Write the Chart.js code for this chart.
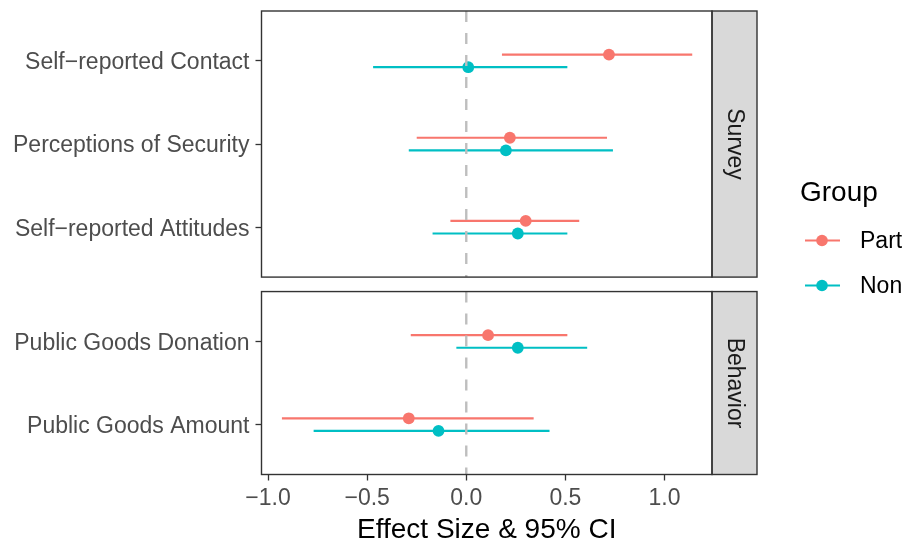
<!DOCTYPE html>
<html>
<head>
<meta charset="utf-8">
<script src="https://cdn.jsdelivr.net/npm/chart.js@4"></script>
<style>
  html, body { margin: 0; padding: 0; background: #fff; }
  #wrap { width: 904px; height: 541px; }
</style>
</head>
<body>
<div id="wrap"><canvas id="myChart" width="904" height="541"></canvas></div>
<script>
// facets and their rows (top to bottom)
const facets = ['Survey', 'Behavior'];
const surveyCats = ['Self\u2212reported Contact', 'Perceptions of Security', 'Self\u2212reported Attitudes'];
const behaviorCats = ['Public Goods Donation', 'Public Goods Amount'];
const groups = ['Part', 'Non'];

// estimates and 95% CI, same order as surveyCats then behaviorCats
const partEst  = [0.72, 0.22, 0.30, 0.11, -0.29];
const partLow  = [0.18, -0.25, -0.08, -0.28, -0.93];
const partHigh = [1.14, 0.71, 0.57, 0.51, 0.34];
const nonEst   = [0.01, 0.20, 0.26, 0.26, -0.14];
const nonLow   = [-0.47, -0.29, -0.17, -0.05, -0.77];
const nonHigh  = [0.51, 0.74, 0.51, 0.61, 0.42];

const xTicks = [-1, -0.5, 0, 0.5, 1];

const colors = { Part: '#F8766D', Non: '#00BFC4' };
const FONT = "'Liberation Sans', Arial, Helvetica, sans-serif";

// y layout in "row units" (ggplot style expansion of 0.6 around each facet)
const EXPAND = 0.6, GAP = 0.174, DODGE = 0.076;
const facetRows = [surveyCats, behaviorCats];
const panels = [];   // {name, from, to}
const rowPos = [];   // center of every row
const rowLabels = [];
let cursor = 0;
facetRows.forEach((cats, f) => {
  const from = cursor;
  cats.forEach((c, i) => { rowPos.push(from + EXPAND + i); rowLabels.push(c); });
  const to = from + EXPAND * 2 + cats.length - 1;
  panels.push({ name: facets[f], from, to });
  cursor = to + GAP;
});
const yMax = panels[panels.length - 1].to;

function intervals(lo, hi, shift) {
  const out = [];
  lo.forEach((v, i) => {
    out.push({ x: v, y: rowPos[i] + shift }, { x: hi[i], y: rowPos[i] + shift }, { x: NaN, y: NaN });
  });
  return out;
}
function points(est, shift) {
  return est.map((v, i) => ({ x: v, y: rowPos[i] + shift }));
}
const vline = [];
panels.forEach(p => { vline.push({ x: 0, y: p.from }, { x: 0, y: p.to }, { x: NaN, y: NaN }); });

// panel borders, facet strips and legend
const facetDecor = {
  id: 'facetDecor',
  afterDraw(chart) {
    const { ctx, chartArea, scales } = chart;
    const y = scales.y;
    const stripW = 45;
    ctx.save();
    panels.forEach(p => {
      const top = y.getPixelForValue(p.from), bot = y.getPixelForValue(p.to);
      ctx.fillStyle = '#D9D9D9';
      ctx.fillRect(chartArea.right, top, stripW, bot - top);
      ctx.strokeStyle = '#333333';
      ctx.lineWidth = 1.4;
      ctx.strokeRect(chartArea.left, top, chartArea.right - chartArea.left, bot - top);
      ctx.strokeRect(chartArea.right, top, stripW, bot - top);
      ctx.save();
      ctx.translate(chartArea.right + stripW / 2, (top + bot) / 2);
      ctx.rotate(Math.PI / 2);
      ctx.fillStyle = '#1A1A1A';
      ctx.font = '23px ' + FONT;
      ctx.textAlign = 'center';
      ctx.textBaseline = 'middle';
      ctx.fillText(p.name, 0, 0);
      ctx.restore();
    });
    // legend
    ctx.fillStyle = '#000';
    ctx.font = '28px ' + FONT;
    ctx.textAlign = 'left';
    ctx.textBaseline = 'alphabetic';
    ctx.fillText('Group', 800, 201);
    groups.forEach((g, i) => {
      const ly = 240.5 + i * 45;
      ctx.strokeStyle = colors[g];
      ctx.lineWidth = 2.2;
      ctx.beginPath();
      ctx.moveTo(805, ly); ctx.lineTo(840, ly);
      ctx.stroke();
      ctx.fillStyle = colors[g];
      ctx.beginPath();
      ctx.arc(822, ly, 5.8, 0, Math.PI * 2);
      ctx.fill();
      ctx.fillStyle = '#000';
      ctx.font = '23px ' + FONT;
      ctx.textBaseline = 'middle';
      ctx.fillText(g, 860, ly + 1);
    });
    ctx.restore();
  }
};

const ctx = document.getElementById('myChart').getContext('2d');
const chart = new Chart(ctx, {
  type: 'scatter',
  data: {
    datasets: [
      { label: 'zero', data: vline, showLine: true, spanGaps: false, borderColor: '#BEBEBE',
        borderWidth: 2.4, borderDash: [11, 11], pointRadius: 0, order: 0 },
      { label: 'Part', data: points(partEst, -DODGE), backgroundColor: colors.Part,
        borderWidth: 0, pointRadius: 5.9, order: 1 },
      { label: 'Non', data: points(nonEst, DODGE), backgroundColor: colors.Non,
        borderWidth: 0, pointRadius: 5.9, order: 1 },
      { label: 'Part CI', data: intervals(partLow, partHigh, -DODGE), showLine: true, spanGaps: false,
        borderColor: colors.Part, borderWidth: 2.2, pointRadius: 0, order: 2 },
      { label: 'Non CI', data: intervals(nonLow, nonHigh, DODGE), showLine: true, spanGaps: false,
        borderColor: colors.Non, borderWidth: 2.2, pointRadius: 0, order: 2 }
    ]
  },
  options: {
    responsive: false,
    animation: false,
    layout: { padding: { top: 11, right: 192, left: 0, bottom: 0 } },
    plugins: { legend: { display: false }, tooltip: { enabled: false } },
    scales: {
      x: {
        type: 'linear',
        min: -1.033,
        max: 1.2397,
        afterBuildTicks: s => { s.ticks = xTicks.map(v => ({ value: v })); },
        afterFit: s => { s.height = 66.5; s.paddingLeft = 0; s.paddingRight = 0; },
        grid: { drawOnChartArea: false, tickLength: 6, tickColor: '#333333', tickWidth: 1.3 },
        border: { display: false },
        ticks: {
          color: '#4D4D4D', padding: 4, maxRotation: 0,
          font: { family: FONT, size: 23 },
          callback: v => (v < 0 ? '\u2212' : '') + Math.abs(v).toFixed(1)
        },
        title: {
          display: true, text: 'Effect Size & 95% CI', color: '#000',
          font: { family: FONT, size: 28, lineHeight: 0.8 }, padding: { top: 0, bottom: 0 }
        }
      },
      y: {
        type: 'linear',
        reverse: true,
        min: 0,
        max: yMax,
        afterBuildTicks: s => { s.ticks = rowPos.map(v => ({ value: v })); },
        afterFit: s => { s.width = 261.5; s.paddingTop = 0; s.paddingBottom = 0; },
        grid: { drawOnChartArea: false, tickLength: 6, tickColor: '#333333', tickWidth: 1.3 },
        border: { display: false },
        ticks: {
          color: '#4D4D4D', padding: 6, labelOffset: 2,
          font: { family: FONT, size: 23 },
          callback: (v, i) => rowLabels[i]
        }
      }
    }
  },
  plugins: [facetDecor]
});
</script>
</body>
</html>
